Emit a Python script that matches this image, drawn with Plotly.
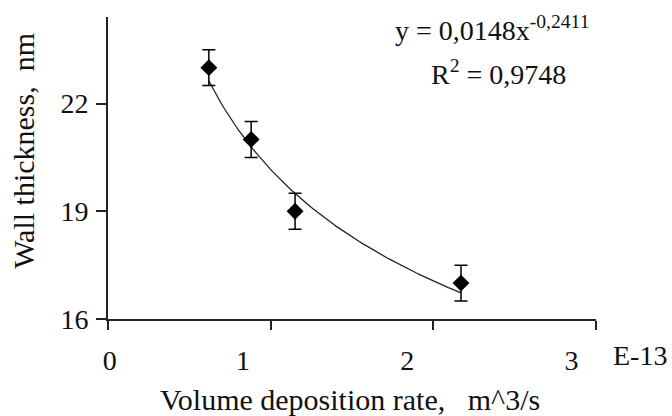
import numpy as np
import plotly.graph_objects as go

# Measured wall thickness vs. volume deposition rate (x in units of 1e-13 m^3/s)
rate = [0.62, 0.88, 1.15, 2.17]
thickness = [23.0, 21.0, 19.0, 17.0]
thickness_err = [0.5, 0.5, 0.5, 0.5]

# Power-law trendline y = a * x^b (x in m^3/s)
fit_a = 0.0148
fit_b = -0.2411
fit_r2 = 0.9748
x_scale = 1e-13

x_ticks = [0, 1, 2, 3]
x_tick_text = ["0", "1", "2", "3"]
y_ticks = [16, 19, 22]

FONT = "Liberation Serif"
FS = 28
FS_TITLE = 30
INK = "#111111"

fit_x = np.linspace(min(rate), max(rate), 120)
fit_y = fit_a * (fit_x * x_scale) ** fit_b

fig = go.Figure()

fig.add_trace(go.Scatter(
    x=fit_x, y=fit_y, mode="lines",
    line=dict(color="#222222", width=1.3),
    hoverinfo="skip", showlegend=False,
))

fig.add_trace(go.Scatter(
    x=rate, y=thickness, mode="markers",
    marker=dict(symbol="diamond", size=13, color="black"),
    error_y=dict(type="data", array=thickness_err, visible=True,
                 color="black", thickness=1.5, width=6.5),
    showlegend=False,
))

# Tick labels on the bottom sit slightly left of their tick marks
label_shift = [0.01, -0.17, -0.16, -0.15]
label_pos = [t + s for t, s in zip(x_ticks, label_shift)]

fig.add_trace(go.Scatter(x=[None], y=[None], xaxis="x2", showlegend=False))

fig.update_layout(
    width=672, height=416,
    margin=dict(l=108, r=76, t=17, b=97),
    paper_bgcolor="white", plot_bgcolor="white",
    font=dict(family=FONT, size=FS, color=INK),
    xaxis=dict(
        range=[0, 3], tickvals=x_ticks, showticklabels=False,
        ticks="outside", ticklen=9, tickwidth=1.5, tickcolor="#222222",
        showline=True, linecolor="#222222", linewidth=1.8,
        showgrid=False, zeroline=False,
    ),
    xaxis2=dict(
        range=[0, 3], overlaying="x", side="bottom", anchor="y",
        tickvals=label_pos, ticktext=x_tick_text, ticks="",
        ticklabelstandoff=22,
        showline=False, showgrid=False, zeroline=False,
        tickfont=dict(family=FONT, size=FS, color=INK),
    ),
    yaxis=dict(
        range=[16, 24.41], tickvals=y_ticks,
        ticks="outside", ticklen=10, tickwidth=1.5, tickcolor="#222222",
        showline=True, linecolor="#222222", linewidth=1.8,
        showgrid=False, zeroline=False,
        tickfont=dict(family=FONT, size=FS, color=INK),
        ticklabelstandoff=2,
    ),
    annotations=[
        dict(text="Wall thickness,  nm", textangle=-90,
             xref="paper", yref="paper", x=-0.172, y=0.557,
             xanchor="center", yanchor="middle", showarrow=False,
             font=dict(family=FONT, size=FS_TITLE, color=INK)),
        dict(text="Volume deposition rate,   m^3/s",
             xref="paper", yref="paper", x=0.496, y=-0.268,
             xanchor="center", yanchor="middle", showarrow=False,
             font=dict(family=FONT, size=FS_TITLE, color=INK)),
        dict(text="E-13",
             xref="paper", yref="paper", x=1.031, y=-0.1225,
             xanchor="left", yanchor="middle", showarrow=False,
             font=dict(family=FONT, size=FS, color=INK)),
        dict(text="y = %sx<sup>%s</sup>" % (f"{fit_a:.4f}".replace(".", ","),
                                            f"{fit_b:.4f}".replace(".", ",")),
             xref="paper", yref="paper", x=0.584, y=0.962,
             xanchor="left", yanchor="middle", showarrow=False,
             font=dict(family=FONT, size=FS, color=INK)),
        dict(text="R<sup>2</sup> = %s" % f"{fit_r2:.4f}".replace(".", ","),
             xref="paper", yref="paper", x=0.658, y=0.815,
             xanchor="left", yanchor="middle", showarrow=False,
             font=dict(family=FONT, size=FS, color=INK)),
    ],
)

fig.write_html("out.html")
